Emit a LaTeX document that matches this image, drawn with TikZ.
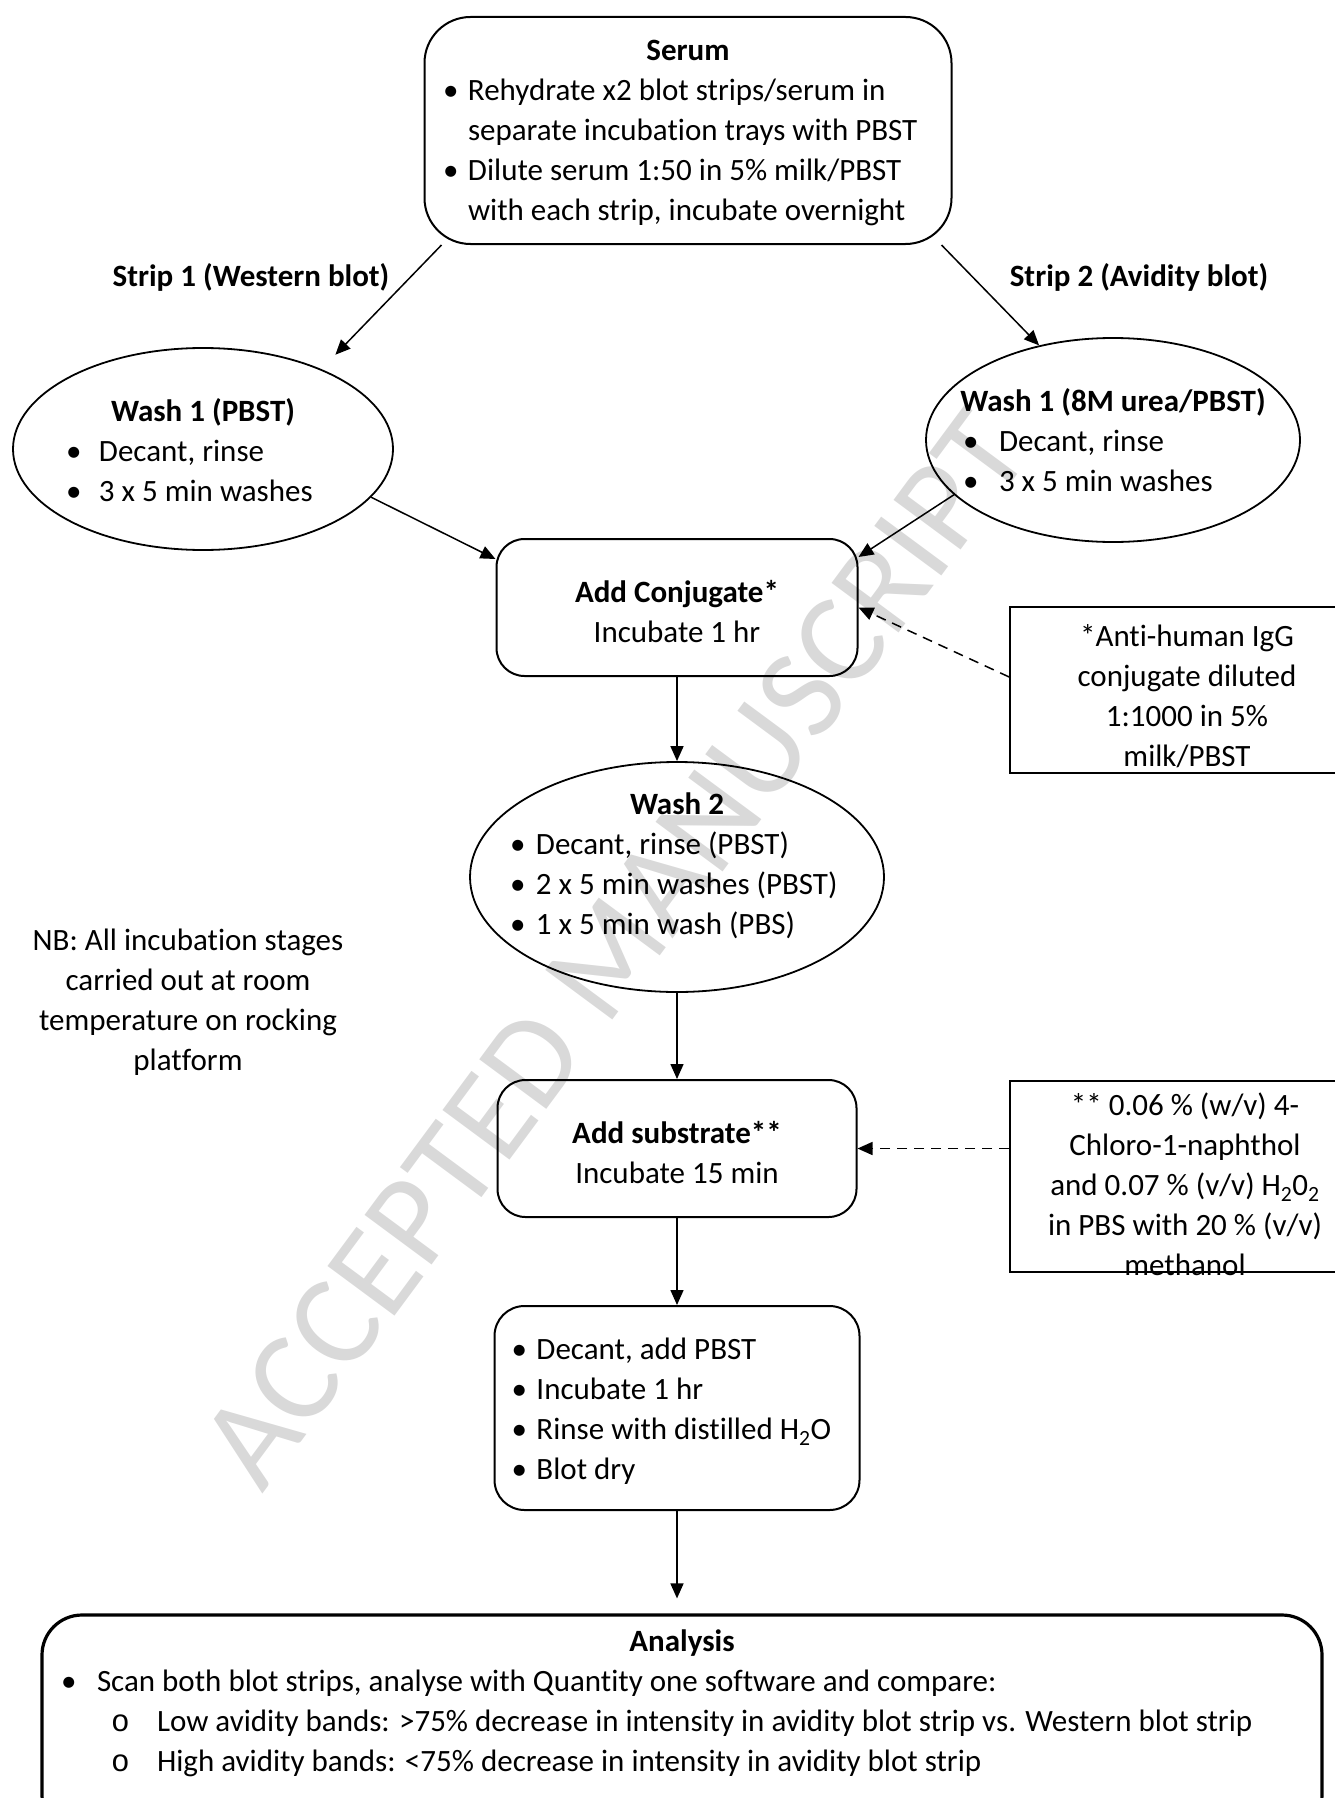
\documentclass[tikz,border=0pt]{standalone}
\usepackage{fontspec}
\setmainfont{Carlito}[Ligatures=NoCommon]
\newfontfamily\circfont{Liberation Mono}
\usetikzlibrary{shapes.geometric,arrows.meta}
\newcommand{\bitem}[3]{\makebox[#1][l]{\makebox[#2][l]{\textbullet}#3}}
\newcommand{\bcont}[3]{\makebox[#1][l]{\hspace{#2}#3}}
\newcommand{\citem}[3]{\makebox[#1][l]{\hspace{50pt}\makebox[#2][l]{\circfont o}#3}}
\newcommand{\boxtext}[2]{\raisebox{#1}[0pt][0pt]{\makebox[0pt]{\begin{tabular}{@{}c@{}}#2\end{tabular}}}}

\begin{document}
\begin{tikzpicture}[x=1pt,y=-1pt,>={Triangle[length=15pt,width=13pt]},
		every node/.style={font=\fontsize{31}{40}\selectfont, inner sep=0pt},
		lab/.style={font=\fontsize{31}{40}\selectfont\bfseries},
		rbox/.style={draw, line width=2pt, rounded corners=28pt},
		wash/.style={draw, ellipse, line width=1.8pt},
		note/.style={draw, line width=1.6pt},
		flow/.style={->, line width=1.5pt},
		hint/.style={->, line width=1.5pt, dash pattern=on 10pt off 7pt}]
		\useasboundingbox (0,0) rectangle (1335,1798);
		\clip (0,0) rectangle (1335,1798);
		\node[text=black!15, font=\fontsize{130}{130}\selectfont, rotate=53.5] (mark) at (614,949) {ACCEPTED MANUSCRIPT};

		\node[rbox, rounded corners=46pt, minimum width=527pt, minimum height=227pt] (serum) at (688,130.5) {\boxtext{-8pt}{\textbf{Serum}\\ \bitem{490pt}{25pt}{Rehydrate x2 blot strips/serum in}\\ \bcont{490pt}{25pt}{separate incubation trays with PBST}\\ \bitem{490pt}{25pt}{Dilute serum 1:50 in 5\% milk/PBST}\\ \bcont{490pt}{25pt}{with each strip, incubate overnight}}};
		\node[lab] (stripA) at (251,277) {Strip 1 (Western blot)};
		\node[lab] (stripB) at (1139,277) {Strip 2 (Avidity blot)};

		\node[wash, minimum width=380pt, minimum height=202pt] (washA) at (203,449) {\boxtext{-10.75pt}{\textbf{Wash 1 (PBST)}\\ \bitem{274pt}{33pt}{Decant, rinse}\\ \bitem{274pt}{33pt}{3 x 5 min washes}}};
		\node[wash, minimum width=374pt, minimum height=204pt] (washB) at (1113,440) {\boxtext{-9.25pt}{\textbf{Wash 1 (8M urea/PBST)}\\ \bitem{300pt}{36pt}{Decant, rinse}\\ \bitem{300pt}{36pt}{3 x 5 min washes}}};

		\node[rbox, minimum width=361pt, minimum height=137pt] (conj) at (677,607.5) {\boxtext{-12.75pt}{\textbf{Add Conjugate*}\\Incubate 1 hr}};
		\node[note, minimum width=354pt, minimum height=166pt] (noteA) at (1187,690) {\boxtext{-14.25pt}{*Anti-human IgG\\conjugate diluted\\1:1000 in 5\%\\milk/PBST}};

		\node[wash, minimum width=414pt, minimum height=230pt] (wash2) at (677,877) {\boxtext{4.25pt}{\textbf{Wash 2}\\ \bitem{334pt}{26pt}{Decant, rinse (PBST)}\\ \bitem{334pt}{26pt}{2 x 5 min washes (PBST)}\\ \bitem{334pt}{26pt}{1 x 5 min wash (PBS)}}};
		\node (nb) at (188,1002) {\begin{tabular}{@{}c@{}}NB: All incubation stages\\carried out at room\\temperature on rocking\\platform\end{tabular}};

		\node[rbox, minimum width=359pt, minimum height=137pt] (sub) at (677,1148.5) {\boxtext{-12.75pt}{\textbf{Add substrate**}\\Incubate 15 min}};
		\node[note, minimum width=350pt, minimum height=191pt] (noteB) at (1185,1176.5) {\boxtext{-17.25pt}{** 0.06 \% (w/v) 4-\\Chloro-1-naphthol\\and 0.07 \% (v/v) H\textsubscript{2}0\textsubscript{2}\\in PBS with 20 \% (v/v)\\methanol}};

		\node[rbox, rounded corners=30pt, minimum width=365pt, minimum height=204pt] (final) at (677,1408) {\boxtext{-9.75pt}{\bitem{331pt}{25pt}{Decant, add PBST}\\ \bitem{331pt}{25pt}{Incubate 1 hr}\\ \bitem{331pt}{25pt}{Rinse with distilled H\textsubscript{2}O}\\ \bitem{331pt}{25pt}{Blot dry}}};
		\node[rbox, line width=3.2pt, rounded corners=40pt, minimum width=1280pt, minimum height=220pt] (analysis) at (682,1725) {\boxtext{15.25pt}{\textbf{Analysis}\\ \bitem{1242pt}{36pt}{Scan both blot strips, analyse with Quantity one software and compare:}\\ \citem{1242pt}{46pt}{Low avidity bands: >75\% decrease in intensity in avidity blot strip vs. Western blot strip}\\ \citem{1242pt}{46pt}{High avidity bands: <75\% decrease in intensity in avidity blot strip}}};

		\draw[flow, shorten >=20pt] ([xshift=18pt]serum.south west) -- (washA.34);
		\draw[flow] ([xshift=-11pt]serum.south east) -- (washB.128);
		\draw[flow] (washA.-16) -- ([yshift=-21pt]conj.north west);
		\draw[flow] (washB.199) -- ([yshift=-19pt]conj.north east);
		\draw[hint] (conj.south -| noteA.west) -- (conj.east);
		\draw[flow] (conj.south) -- (wash2.north);
		\draw[flow] (wash2.south) -- (sub.north);
		\draw[hint] (sub.east -| noteB.west) -- (sub.east);
		\draw[flow] (sub.south) -- (final.north);
		\draw[flow, shorten >=15pt] (final.south) -- (final.south |- analysis.north);
	\end{tikzpicture}
\end{document}
